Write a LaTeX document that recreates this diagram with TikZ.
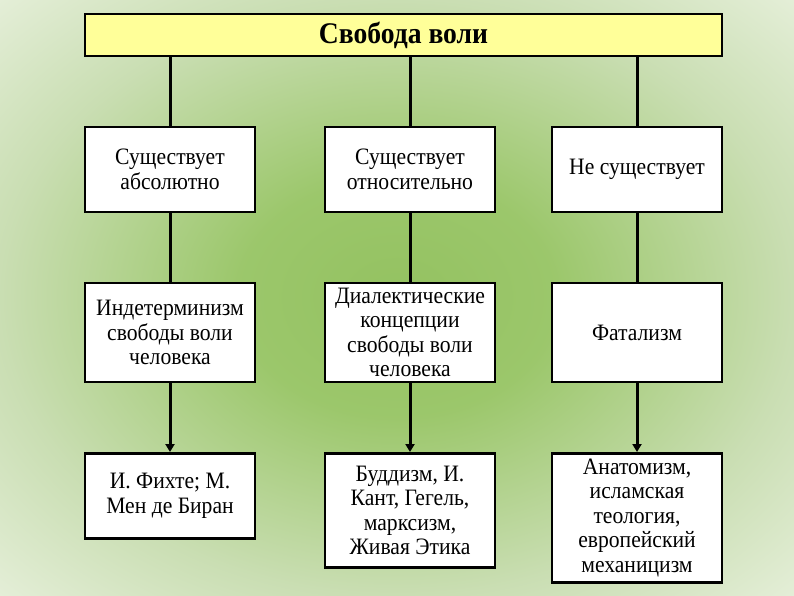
\documentclass[tikz,border=0pt]{standalone}
\usepackage{fontspec}
\setmainfont[FakeStretch=0.92]{Liberation Serif}
\usepackage{tikz}
\usetikzlibrary{arrows.meta, positioning}
\usepackage{xcolor}

\definecolor{titlefill}{RGB}{255,255,153}
\pgfdeclareradialshading{bgshade}{\pgfpoint{0bp}{0bp}}{%
  rgb(0bp)=(0.58,0.76,0.38);
  rgb(10bp)=(0.61,0.78,0.42);
  rgb(25bp)=(0.79,0.87,0.70);
  rgb(38bp)=(0.92,0.95,0.88);
  rgb(48bp)=(1,1,1);
  rgb(100bp)=(1,1,1)}

\begin{document}
\begin{tikzpicture}[x=1pt, y=-1pt,
    box/.style={draw, line width=2.5pt, fill=white, minimum width=170pt,
                inner sep=1pt, align=center, font=\fontsize{23.5}{24.5}\selectfont},
    link/.style={line width=3pt},
    arrowlink/.style={line width=3pt, -{Triangle[width=9pt, length=8pt]}}]
    % background
    \shade[shading=bgshade] (0,0) rectangle (794,595);
    \useasboundingbox (0,0) rectangle (794,595);
    % title
    \node[draw, line width=2.5pt, fill=titlefill, minimum width=637pt,
          minimum height=42pt, inner sep=0pt,
          font=\fontsize{30}{32}\selectfont\bfseries]
          (title) at (403.5,35) {Свобода воли};
    % second row
    \node[box, minimum height=85pt] (absol) at (170,169.5)
          {Существует\\абсолютно};
    \node[box, minimum height=85pt] (relat) at (410,169.5)
          {Существует\\относительно};
    \node[box, minimum height=85pt] (nonex) at (637,169.5)
          {Не существует};
    % third row
    \node[box, minimum height=99pt] (indet) at (170,332.5)
          {Индетерминизм\\свободы воли\\человека};
    \node[box, minimum height=99pt] (dialec) at (410,332.5)
          {Диалектические\\концепции\\свободы воли\\человека};
    \node[box, minimum height=99pt] (fatal) at (637,332.5)
          {Фатализм};
    % fourth row
    \node[box, anchor=north, minimum height=85pt] (fichte) at (170,452)
          {И. Фихте; М.\\Мен де Биран};
    \node[box, anchor=north, minimum height=114pt] (buddh) at (410,452)
          {Буддизм, И.\\Кант, Гегель,\\марксизм,\\Живая Этика};
    \node[box, anchor=north, minimum height=129pt] (anat) at (637,452)
          {Анатомизм,\\исламская\\теология,\\европейский\\механицизм};
    % connectors
    \foreach \a/\b/\c in {absol/indet/fichte, relat/dialec/buddh, nonex/fatal/anat} {
        \draw[link] (\a.north |- title.south) -- (\a.north);
        \draw[link] (\a.south) -- (\b.north);
        \draw[arrowlink] (\b.south) -- (\c.north);
    }
\end{tikzpicture}
\end{document}
